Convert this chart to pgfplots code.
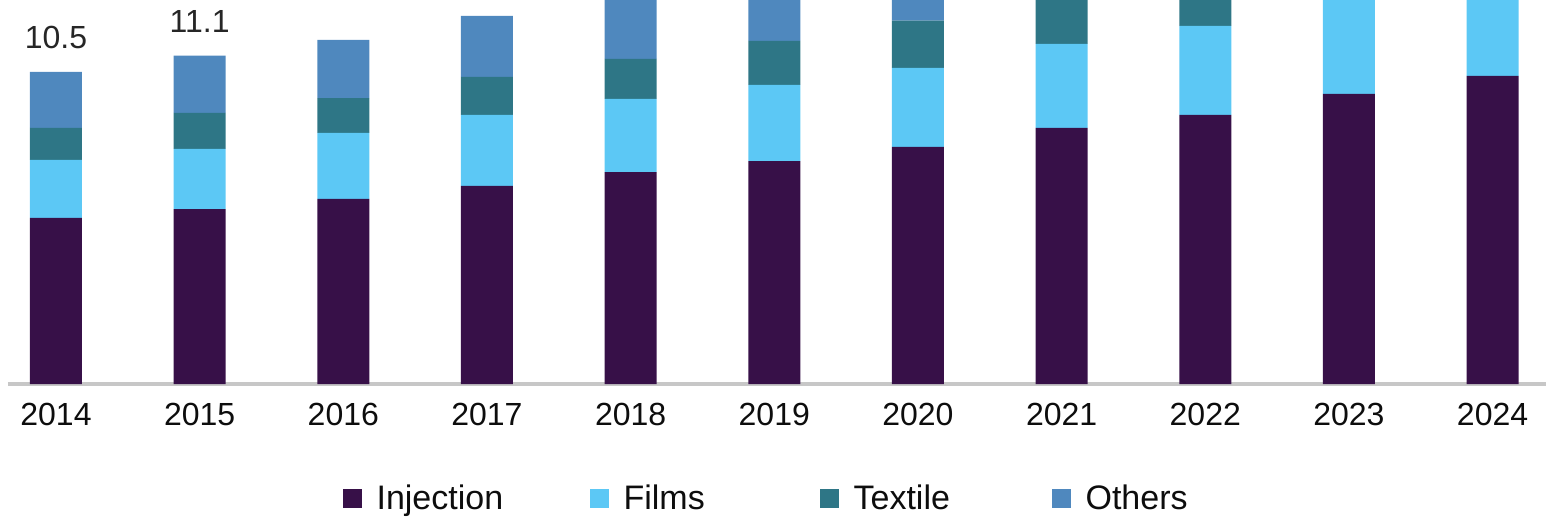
\documentclass[border=0pt]{standalone}
\usepackage{fontspec}
\setmainfont{Liberation Sans}
\usepackage{pgfplots}
\pgfplotsset{compat=1.18}
\definecolor{cInj}{RGB}{55,16,72}
\definecolor{cFilm}{RGB}{92,200,245}
\definecolor{cTex}{RGB}{46,118,134}
\definecolor{cOth}{RGB}{79,136,190}
\begin{document}
\begin{tikzpicture}
\path[use as bounding box] (0,0) rectangle (773pt,258pt);
\begin{axis}[
  at={(4pt,66pt)}, anchor=south west,
  scale only axis, width=769pt, height=192pt,
  ybar stacked, bar width=26pt,
  xmin=-0.334, xmax=10.372, ymin=0, ymax=12.97,
  axis x line*=bottom, axis y line=none,
  x axis line style={draw=black!22, line width=2pt, -},
  xtick={0,...,10},
  xticklabels={2014,2015,2016,2017,2018,2019,2020,2021,2022,2023,2024},
  major tick length=0pt,
  xticklabel style={anchor=base, yshift=-20.5pt, font=\fontsize{16}{19}\selectfont, text=black!95},
  legend columns=4,
  legend cell align=left,
  legend style={at={(0.2178,-0.2984)}, anchor=west, draw=none, fill=none,
    inner sep=0pt, outer sep=0pt, column sep=0pt, row sep=0pt,
    font=\fontsize{17}{20}\selectfont, text=black!95, nodes={inner sep=0pt}},
  legend image code/.code={\fill[#1] (0pt,-4.6pt) rectangle (9.4pt,4.6pt); \path (16.8pt,0pt);},
]
\addplot[fill=cInj, draw=none] coordinates {(0,5.61) (1,5.91) (2,6.25) (3,6.69) (4,7.16) (5,7.53) (6,8.01) (7,8.65) (8,9.09) (9,9.80) (10,10.41)};
\addplot[fill=cFilm, draw=none] coordinates {(0,1.96) (1,2.03) (2,2.23) (3,2.40) (4,2.47) (5,2.57) (6,2.67) (7,2.84) (8,3.01) (9,3.25) (10,3.40)};
\addplot[fill=cTex, draw=none] coordinates {(0,1.08) (1,1.22) (2,1.18) (3,1.28) (4,1.35) (5,1.49) (6,1.59) (7,1.70) (8,1.80) (9,1.90) (10,2.00)};
\addplot[fill=cOth, draw=none] coordinates {(0,1.89) (1,1.93) (2,1.96) (3,2.06) (4,2.15) (5,2.25) (6,2.35) (7,2.45) (8,2.55) (9,2.70) (10,2.85)};
\legend{\makebox[106.7pt][l]{Injection},\makebox[98.2pt][l]{Films},\makebox[99.2pt][l]{Textile},Others}
\node[anchor=base, yshift=11.5pt, font=\fontsize{16}{19}\selectfont, text=black!85] at (axis cs:0,10.54) {10.5};
\node[anchor=base, yshift=11.5pt, font=\fontsize{16}{19}\selectfont, text=black!85] at (axis cs:1,11.09) {11.1};
\end{axis}
\end{tikzpicture}
\end{document}
